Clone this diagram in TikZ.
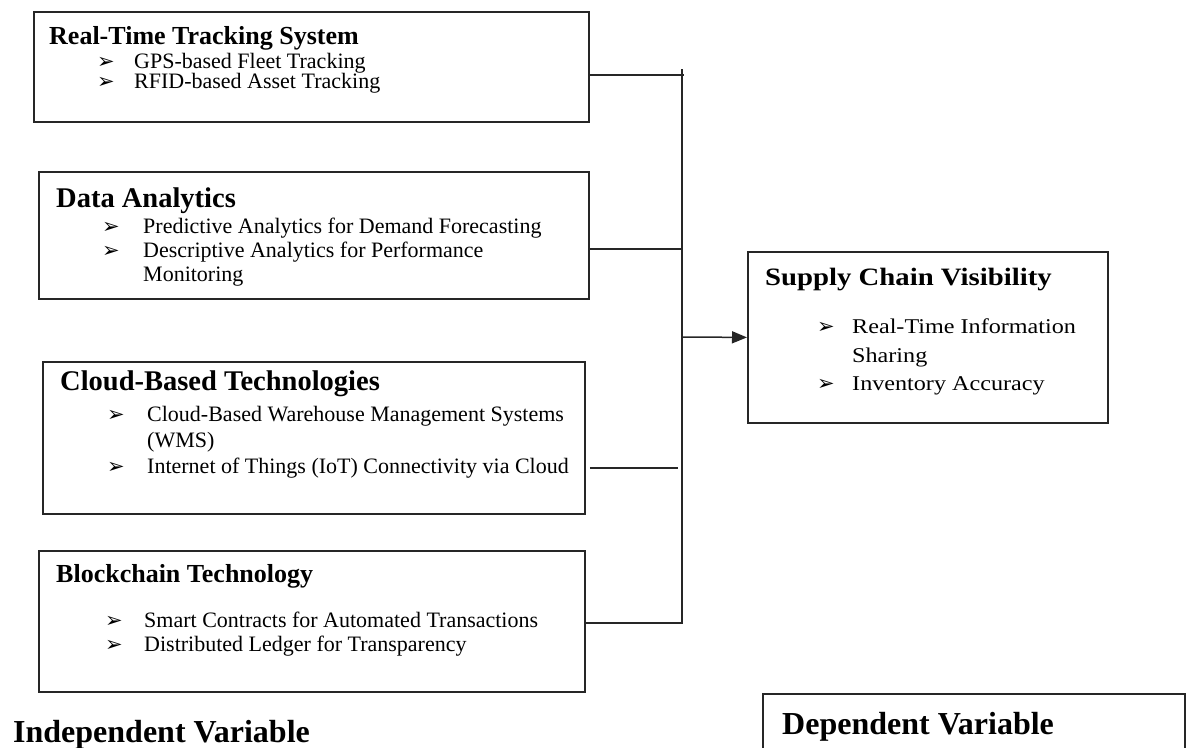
\documentclass[tikz,border=0pt]{standalone}
\usepackage{fontspec}
\setmainfont{Liberation Serif}
\newfontfamily\dejavu{DejaVu Sans}
\newfontfamily\widefont[FakeStretch=1.15]{Liberation Serif}
\usetikzlibrary{arrows.meta}
\newcommand\arrowbul{{\dejavu\fontsize{21}{21}\selectfont ➢}}
\newcommand\itm[2]{\makebox[#1pt][l]{\arrowbul}#2}
\begin{document}
\begin{tikzpicture}[x=1pt,y=-1pt,
    box/.style={draw=black!85,line width=1.8pt,inner sep=0,anchor=north west},
    ttl/.style={anchor=base west,inner sep=0,font=\bfseries\fontsize{26}{30}\selectfont},
    bigttl/.style={ttl,font=\bfseries\fontsize{28.5}{32}\selectfont},
    itmtext/.style={anchor=base west,inner sep=0,font=\fontsize{22}{24}\selectfont},
    wide/.style={anchor=base west,inner sep=0,font=\widefont\fontsize{21}{24}\selectfont},
    varlabel/.style={anchor=base west,inner sep=0,font=\bfseries\fontsize{32}{36}\selectfont},
    conn/.style={draw=black!85,line width=1.5pt}]
  \useasboundingbox (0,0) rectangle (1186,747);

  \node[box,minimum width=555pt,minimum height=110pt] (rt) at (33,11) {};
  \node[ttl] (rt-t) at (49,44) {Real-Time Tracking System};
  \node[itmtext] (rt-1) at (97,68) {\itm{37}{GPS-based Fleet Tracking}};
  \node[itmtext] (rt-2) at (97,88) {\itm{37}{RFID-based Asset Tracking}};

  \node[box,minimum width=550pt,minimum height=127pt] (da) at (38,171) {};
  \node[bigttl] (da-t) at (56,207) {Data Analytics};
  \node[itmtext] (da-1) at (102,233) {\itm{41}{Predictive Analytics for Demand Forecasting}};
  \node[itmtext] (da-2) at (102,257) {\itm{41}{Descriptive Analytics for Performance}};
  \node[itmtext] (da-3) at (143,281) {Monitoring};

  \node[box,minimum width=542pt,minimum height=152pt] (cb) at (42,361) {};
  \node[bigttl] (cb-t) at (60,390) {Cloud-Based Technologies};
  \node[itmtext] (cb-1) at (107,421) {\itm{40}{Cloud-Based Warehouse Management Systems}};
  \node[itmtext] (cb-2) at (147,447) {(WMS)};
  \node[itmtext] (cb-3) at (107,473) {\itm{40}{Internet of Things (IoT) Connectivity via Cloud}};

  \node[box,minimum width=546pt,minimum height=141pt] (bc) at (38,550) {};
  \node[ttl] (bc-t) at (56,582) {Blockchain Technology};
  \node[itmtext] (bc-1) at (105,627) {\itm{39}{Smart Contracts for Automated Transactions}};
  \node[itmtext] (bc-2) at (105,651) {\itm{39}{Distributed Ledger for Transparency}};

  \node[box,minimum width=360pt,minimum height=171pt] (scv) at (747,251) {};
  \node[wide,font=\widefont\bfseries\fontsize{25}{30}\selectfont] (scv-t) at (765,285) {Supply Chain Visibility};
  \node[wide] (scv-1) at (817,333) {\itm{35}{Real-Time Information}};
  \node[wide] (scv-2) at (852,362) {Sharing};
  \node[wide] (scv-3) at (817,390) {\itm{35}{Inventory Accuracy}};

  \node[varlabel] (iv) at (13,742) {Independent Variable};
  \node[box,minimum width=422pt,minimum height=80pt] (dv) at (762,693) {};
  \node[varlabel] (dv-t) at (782,734) {Dependent Variable};

  \coordinate (top) at (682,69);
  \coordinate (bot) at (682,623);
  \coordinate (j1) at (684,75);
  \coordinate (j2) at (682,249);
  \coordinate (j3) at (678,468);
  \coordinate (j4) at (682,337);
  \draw[conn] (top) -- (bot) -- (bc.east |- bot);
  \draw[conn] (rt.east |- j1) -- (j1);
  \draw[conn] (da.east |- j2) -- (j2);
  \draw[conn] ([xshift=4pt]cb.east |- j3) -- (j3);
  \draw[conn,-{Triangle[length=15pt,width=12pt]}] (j4) -- (scv.west);
\end{tikzpicture}
\end{document}
